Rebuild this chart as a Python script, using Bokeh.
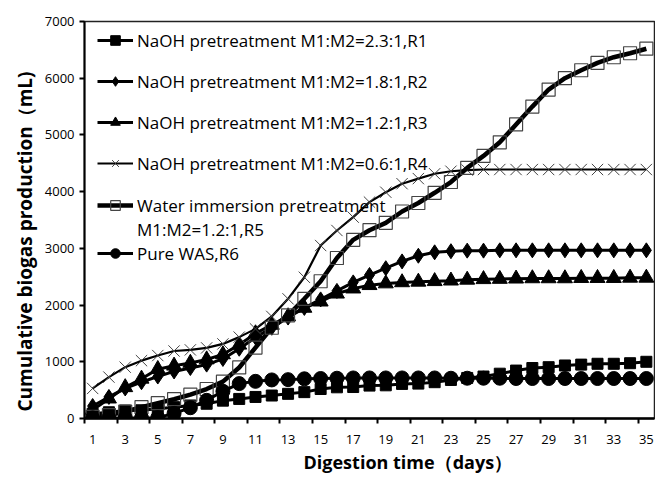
from bokeh.plotting import figure
from bokeh.models import Range1d, FixedTicker, Legend, LegendItem, Title
from bokeh.embed import file_html
from bokeh.resources import INLINE

days = list(range(1, 36))

r1 = [85, 110, 140, 145, 170, 200, 230, 260, 315, 345, 380, 405, 435, 465, 520,
      550, 555, 580, 585, 610, 615, 640, 680, 715, 740, 790, 845, 890, 905, 935,
      950, 965, 965, 975, 1000]
r2 = [220, 380, 530, 640, 740, 830, 890, 950, 1050, 1230, 1430, 1600, 1780, 1950, 2100,
      2250, 2400, 2530, 2650, 2770, 2870, 2930, 2950, 2960, 2960, 2965, 2965, 2965, 2965, 2965,
      2965, 2965, 2965, 2965, 2965]
r3 = [150, 350, 550, 700, 870, 930, 980, 1040, 1130, 1300, 1500, 1650, 1800, 1950, 2060,
      2200, 2290, 2350, 2380, 2400, 2410, 2420, 2430, 2445, 2455, 2460, 2465, 2470, 2470, 2470,
      2475, 2475, 2475, 2480, 2480]
r4 = [530, 730, 905, 1020, 1110, 1190, 1210, 1245, 1315, 1435, 1580, 1800, 2110, 2490, 3050,
      3315, 3550, 3815, 3990, 4140, 4230, 4315, 4360, 4380, 4390, 4390, 4390, 4390, 4390, 4390,
      4390, 4390, 4390, 4390, 4390]
r5 = [30, 60, 120, 200, 270, 340, 420, 520, 650, 900, 1250, 1600, 1820, 2110, 2420,
      2830, 3150, 3320, 3450, 3650, 3800, 3980, 4170, 4420, 4630, 4870, 5185, 5500, 5800, 6000,
      6140, 6270, 6370, 6440, 6520]
r6 = [10, 10, 10, 10, 15, 90, 190, 320, 480, 615, 655, 680, 685, 700, 705,
      710, 715, 715, 715, 715, 715, 715, 710, 710, 710, 710, 705, 705, 705, 705,
      705, 705, 705, 705, 705]

labels = [
    "NaOH pretreatment M1:M2=2.3:1,R1",
    "NaOH pretreatment M1:M2=1.8:1,R2",
    "NaOH pretreatment M1:M2=1.2:1,R3",
    "NaOH pretreatment M1:M2=0.6:1,R4",
    "Water immersion pretreatment",
    "M1:M2=1.2:1,R5",
    "Pure WAS,R6",
]
x_title = "Digestion time（days）"
y_title = "Cumulative biogas production（mL)"
x_tick_days = list(range(1, 36, 2))
x_tick_bounds = [d - 0.5 for d in range(1, 36, 2)]
y_ticks = list(range(0, 7001, 1000))

FONT = "Open Sans"

p = figure(width=655, height=477, output_backend="svg", toolbar_location=None,
           x_range=Range1d(0.5, 35.5), y_range=Range1d(0, 7000),
           min_border_left=84, min_border_right=1, min_border_top=21, min_border_bottom=59,
           background_fill_color="white", border_fill_color="white")
p.xgrid.visible = False
p.ygrid.visible = False
p.outline_line_color = "#222222"
p.outline_line_width = 1.5

# series
l1 = p.line(days, r1, line_color="black", line_width=3)
s1 = p.scatter(days, r1, marker="square", size=11, fill_color="black", line_color="black")
l2 = p.line(days, r2, line_color="black", line_width=3)
s2 = p.scatter(days, r2, marker="diamond", size=15, fill_color="black", line_color="black")
l3 = p.line(days, r3, line_color="black", line_width=3)
s3 = p.scatter(days, r3, marker="triangle", size=15, fill_color="black", line_color="black")
l4 = p.line(days, r4, line_color="black", line_width=2.2)
s4 = p.scatter(days, r4, marker="x", size=16, line_color="#444444", line_width=1)
l5 = p.line(days, r5, line_color="black", line_width=4.5)
s5 = p.scatter(days, r5, marker="square", size=13, fill_alpha=0, line_color="#444444", line_width=1.2)
l6 = p.line(days, r6, line_color="black", line_width=3)
s6 = p.scatter(days, r6, marker="circle", size=14, fill_color="black", line_color="black")
dummy = p.line([], [], line_alpha=0)

# axes
xa = p.xaxis[0]
xa.ticker = FixedTicker(ticks=x_tick_days, minor_ticks=x_tick_bounds)
xa.major_tick_line_color = None
xa.minor_tick_in = 0
xa.minor_tick_out = 5
xa.minor_tick_line_width = 2
xa.minor_tick_line_color = "black"
xa.axis_line_width = 2.5
xa.axis_line_color = "black"
xa.major_label_standoff = 10
xa.major_label_text_font = FONT
xa.major_label_text_font_size = "13px"
xa.major_label_text_color = "black"

ya = p.yaxis[0]
ya.ticker = FixedTicker(ticks=y_ticks, minor_ticks=[])
ya.major_tick_in = 0
ya.major_tick_out = 5
ya.major_tick_line_width = 2
ya.major_tick_line_color = "black"
ya.axis_line_width = 2
ya.axis_line_color = "black"
ya.major_label_standoff = 5
ya.major_label_text_font = FONT
ya.major_label_text_font_size = "13px"
ya.major_label_text_color = "black"

# axis titles (off-centre as in the reference)
p.add_layout(Title(text=x_title, align="left", offset=219, standoff=3,
                   text_font=FONT, text_font_style="bold", text_font_size="18px",
                   text_color="black"), "below")
p.add_layout(Title(text=y_title, align="left", offset=7, standoff=8,
                   text_font=FONT, text_font_style="bold", text_font_size="19px",
                   text_color="black"), "left")

# legends
common = dict(border_line_alpha=0, background_fill_alpha=0, padding=0, margin=0,
              label_text_font=FONT, label_text_font_size="17px", label_text_color="black",
              glyph_width=36, glyph_height=24, label_height=24, label_standoff=4)
leg1 = Legend(items=[
    LegendItem(label=labels[0], renderers=[l1, s1]),
    LegendItem(label=labels[1], renderers=[l2, s2]),
    LegendItem(label=labels[2], renderers=[l3, s3]),
    LegendItem(label=labels[3], renderers=[l4, s4]),
], location=(13, 243), spacing=17, **common)
leg2 = Legend(items=[
    LegendItem(label=labels[4], renderers=[l5, s5]),
    LegendItem(label=labels[5], renderers=[dummy]),
    LegendItem(label=labels[6], renderers=[l6, s6]),
], location=(13, 153), spacing=0, **common)
p.add_layout(leg1)
p.add_layout(leg2)

open("out.html", "w").write(file_html(p, INLINE))
